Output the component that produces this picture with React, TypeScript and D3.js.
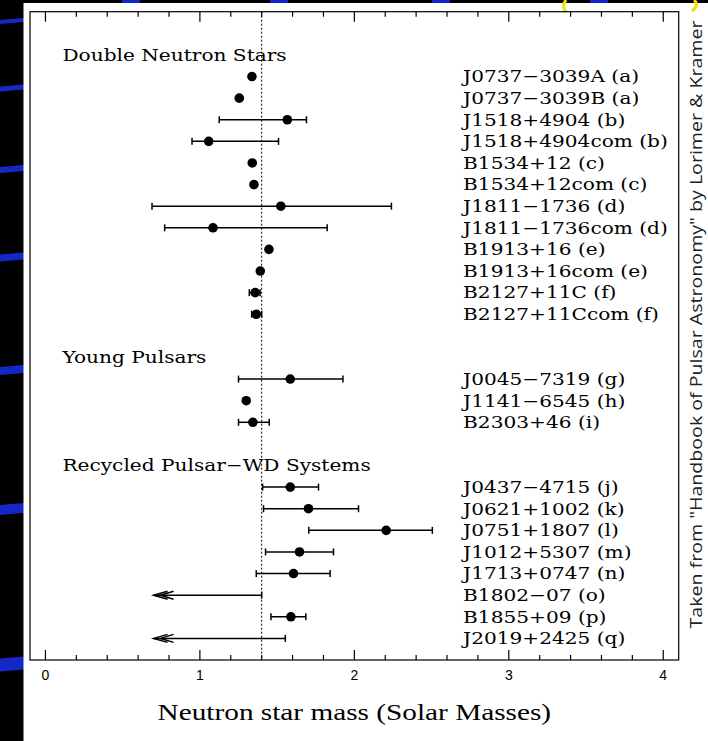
import React from "react";
import * as d3 from "d3";

const groupTitles = ["Double Neutron Stars", "Young Pulsars", "Recycled Pulsar\u2212WD Systems"];
const groupSizes = [12, 3, 8];
const names = [
  "J0737\u22123039A (a)", "J0737\u22123039B (a)", "J1518+4904 (b)", "J1518+4904com (b)",
  "B1534+12 (c)", "B1534+12com (c)", "J1811\u22121736 (d)", "J1811\u22121736com (d)",
  "B1913+16 (e)", "B1913+16com (e)", "B2127+11C (f)", "B2127+11Ccom (f)",
  "J0045\u22127319 (g)", "J1141\u22126545 (h)", "B2303+46 (i)",
  "J0437\u22124715 (j)", "J0621+1002 (k)", "J0751+1807 (l)", "J1012+5307 (m)",
  "J1713+0747 (n)", "B1802\u221207 (o)", "B1855+09 (p)", "J2019+2425 (q)",
];
const masses: (number | null)[] = [
  1.337, 1.255, 1.566, 1.057, 1.339, 1.35, 1.524, 1.085, 1.447, 1.391, 1.358, 1.365,
  1.585, 1.30, 1.343,
  1.585, 1.703, 2.206, 1.645, 1.606, null, 1.589, null,
];
const errLow: (number | null)[] = [
  null, null, 1.125, 0.949, null, null, 0.69, 0.772, null, null, 1.32, 1.335,
  1.25, null, 1.25,
  1.406, 1.412, 1.705, 1.425, 1.365, 0.70, 1.46, 0.70,
];
const errHigh: (number | null)[] = [
  null, null, 1.69, 1.509, null, null, 2.24, 1.824, null, null, 1.39, 1.40,
  1.926, null, 1.449,
  1.768, 2.027, 2.505, 1.865, 1.843, 1.40, 1.686, 1.553,
];
const upperLimit = [
  false, false, false, false, false, false, false, false, false, false, false, false,
  false, false, false,
  false, false, false, false, false, true, false, true,
];
const xTicks = [0, 1, 2, 3, 4];
const chandrasekhar = 1.4;
const xTitle = "Neutron star mass (Solar Masses)";
const credit = "Taken from \"Handbook of Pulsar Astronomy\" by Lorimer & Kramer";

// build row layout: header, members, blank
const headerRows: number[] = [];
const memberRows: number[] = [];
{
  let r = 0;
  groupSizes.forEach((n, gi) => {
    headerRows.push(r);
    r++;
    for (let i = 0; i < n; i++) memberRows.push(r++);
    r++;
  });
}

const SX = 1.22;

export default function App() {
  const W = 708, H = 741;
  const frame = { l: 30, r: 678.7, t: 11.7, b: 660 };
  const x = d3.scaleLinear().domain([-0.1, 4.1]).range([frame.l, frame.r]);
  const y = d3.scaleLinear().domain([-2, 28]).range([frame.t, frame.b]);
  const minor = d3.range(0, 4.0001, 0.2);
  const labelX = x(2.704);
  const headerX = x(0.11);
  const serif = "'DejaVu Serif', serif";

  const stripes = [
    { y: 21, h: 4 }, { y: 88, h: 5 }, { y: 169, h: 6 }, { y: 257, h: 7 },
    { y: 370, h: 8 }, { y: 509, h: 10 }, { y: 664, h: 13 },
  ];
  const topBlue = [122, 270, 432, 590];

  const stretchText = (tx: number, ty: number, s: string, size: number, family: string, anchor = "start", key?: any) => (
    <text key={key} transform={`translate(${tx},${ty}) scale(${SX},1)`} fontSize={size} fontFamily={family}
      textAnchor={anchor} dominantBaseline="central" fill="#000">{s}</text>
  );

  return (
    <svg width={W} height={H} style={{ position: "absolute", left: 0, top: 0, display: "block" }}>
      <rect x={0} y={0} width={W} height={H} fill="#000" />
      {stripes.map((s, i) => (
        <path key={i} d={`M0,${s.y - s.h / 2 + 1} L24,${s.y - s.h / 2 - 1} L24,${s.y + s.h / 2 - 1} L0,${s.y + s.h / 2 + 1}Z`} fill="#1428c8" />
      ))}
      {topBlue.map((bx, i) => <rect key={i} x={bx} y={0} width={18} height={3} fill="#1428c8" />)}
      <rect x={23.5} y={3} width={W - 23.5} height={H - 3} fill="#fff" />
      <path d="M566,0 Q561,6 566,12" fill="none" stroke="#f0e000" strokeWidth={3} />
      <path d="M694,0 Q700,5 692,11" fill="none" stroke="#f0e000" strokeWidth={3} />

      {/* frame */}
      <rect x={frame.l} y={frame.t} width={frame.r - frame.l} height={frame.b - frame.t} fill="none" stroke="#000" strokeWidth={1.2} />
      {minor.map((v, i) => {
        const major = Math.abs(v - Math.round(v)) < 1e-6;
        const len = major ? 10 : 5;
        return (
          <g key={i} stroke="#000" strokeWidth={1.2}>
            <line x1={x(v)} x2={x(v)} y1={frame.t} y2={frame.t + len} />
            <line x1={x(v)} x2={x(v)} y1={frame.b} y2={frame.b - len} />
          </g>
        );
      })}
      {xTicks.map((v) => (
        <text key={v} x={x(v)} y={675} fontSize={14} fontFamily="'Liberation Sans', sans-serif" textAnchor="middle" dominantBaseline="central" fill="#000">{v}</text>
      ))}
      {stretchText((frame.l + frame.r) / 2, 712, xTitle, 24, "'Liberation Serif', serif", "middle")}

      {/* dotted reference line */}
      <line x1={x(chandrasekhar)} x2={x(chandrasekhar)} y1={frame.t} y2={frame.b} stroke="#000" strokeWidth={1} strokeDasharray="2,2" />

      {/* group headers */}
      {groupTitles.map((t, i) => stretchText(headerX, y(headerRows[i]), t, 16.5, serif, "start", "h" + i))}

      {/* members */}
      {names.map((nm, i) => {
        const ry = y(memberRows[i]);
        const lo = errLow[i], hi = errHigh[i], m = masses[i];
        return (
          <g key={i}>
            {lo != null && hi != null && (
              <g stroke="#000" strokeWidth={1.5} fill="none">
                <line x1={x(lo)} x2={x(hi)} y1={ry} y2={ry} />
                {!upperLimit[i] && <line x1={x(lo)} x2={x(lo)} y1={ry - 3.5} y2={ry + 3.5} />}
                <line x1={x(hi)} x2={x(hi)} y1={ry - 3.5} y2={ry + 3.5} />
                {upperLimit[i] && (
                  <path d={`M${x(lo) + 14},${ry - 4} L${x(lo)},${ry} L${x(lo) + 14},${ry + 4} M${x(lo) + 20},${ry - 4} L${x(lo) + 7},${ry} L${x(lo) + 20},${ry + 4}`} />
                )}
              </g>
            )}
            {m != null && <circle cx={x(m)} cy={ry} r={4.8} fill="#000" />}
            {stretchText(labelX, ry, nm, 16.5, serif, "start")}
          </g>
        );
      })}

      {/* credit */}
      <text transform={`translate(696,${(19 + 630) / 2}) rotate(-90)`} fontSize={16} fontFamily="'Open Sans', sans-serif"
        textAnchor="middle" dominantBaseline="central" fill="#222" textLength={608} lengthAdjust="spacingAndGlyphs">{credit}</text>
    </svg>
  );
}
